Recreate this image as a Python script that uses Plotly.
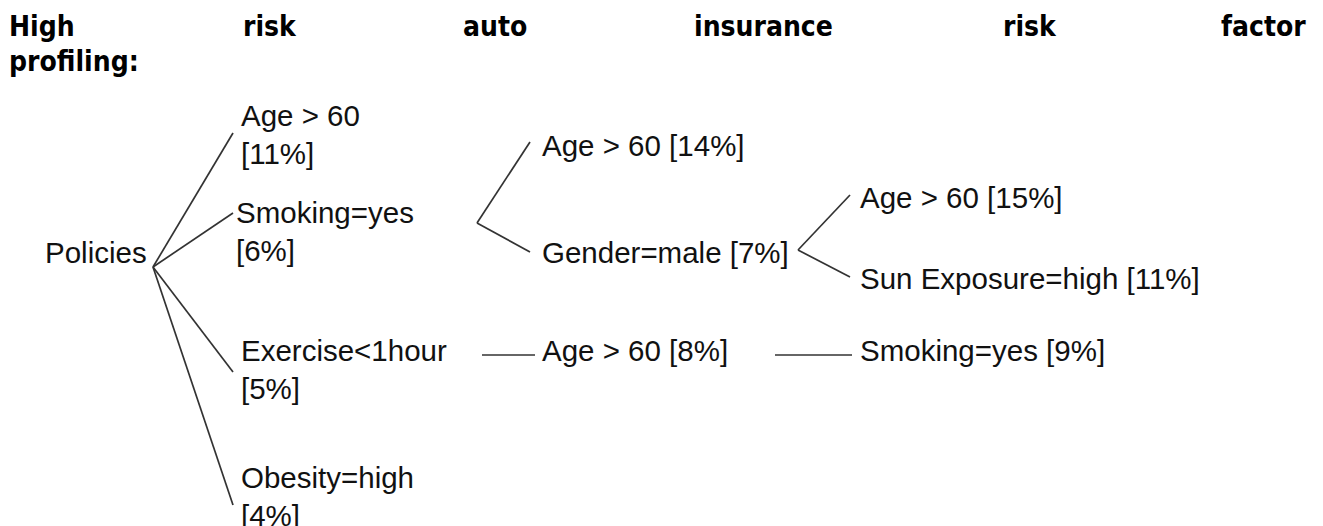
import plotly.graph_objects as go

# ---------------- data ----------------
title_words = ["High", "risk", "auto", "insurance", "risk", "factor"]
title_line2 = "profiling:"

node_labels = ["Policies", "Age > 60", "Smoking=yes", "Exercise<1hour", "Obesity=high",
               "Age > 60", "Gender=male", "Age > 60", "Sun Exposure=high",
               "Age > 60", "Smoking=yes"]
node_pct = [None, 11, 6, 5, 4, 14, 7, 15, 11, 8, 9]
node_parent = [None, 0, 0, 0, 0, 2, 2, 6, 6, 3, 9]
node_level = [0, 1, 1, 1, 1, 2, 2, 3, 3, 2, 3]

# ---------------- layout (pixel positions, page coordinates) ----------------
W, H = 1323, 526
PAGE_MARGIN = 8  # default body margin of the html page
title_word_x = [8, 242, 462, 693, 1002, 1220]
title_y1, title_y2 = 26, 61

# text anchor (x, y-center) per node
node_text_pos = [(148, 252), (240, 134), (235, 231), (240, 369), (240, 496),
                 (541, 145), (541, 252), (859, 197), (859, 278),
                 (541, 350), (859, 350)]
# where edges leave a parent node
node_out = {0: (153, 267), 2: (477, 223), 6: (798, 250), 3: (482, 355), 9: (775, 355)}
# where the edge reaches each child
node_in = {1: (233, 133), 2: (233, 213), 3: (233, 372), 4: (233, 505),
           5: (530, 142), 6: (530, 252), 7: (850, 195), 8: (850, 277),
           9: (535, 355), 10: (852, 355)}

LINE_COLOR = "#333333"
TEXT_COLOR = "#111111"
TREE_FONT = dict(family="Liberation Sans, Arial, sans-serif", size=29.5, color=TEXT_COLOR)
TITLE_FONT = dict(family="DejaVu Sans Condensed, Liberation Sans, sans-serif", size=28, color="#000000")

fig = go.Figure()

# edges
for i, p in enumerate(node_parent):
    if p is None:
        continue
    x0, y0 = node_out[p]
    x1, y1 = node_in[i]
    fig.add_trace(go.Scatter(x=[x0, x1], y=[y0, y1], mode="lines",
                             line=dict(color=LINE_COLOR, width=1.7),
                             hoverinfo="skip", showlegend=False))

annotations = []
# node labels
for i, lab in enumerate(node_labels):
    x, y = node_text_pos[i]
    if node_pct[i] is None:
        txt = lab
        xa = "right"
    elif node_level[i] == 1:
        txt = f"{lab}<br>[{node_pct[i]}%]"
        xa = "left"
    else:
        txt = f"{lab} [{node_pct[i]}%]"
        xa = "left"
    annotations.append(dict(x=x, y=y, xref="x", yref="y", text=txt, showarrow=False,
                            xanchor=xa, yanchor="middle", align="left",
                            font=TREE_FONT, borderpad=0))

# title (justified words)
for wx, w in zip(title_word_x, title_words):
    annotations.append(dict(x=wx, y=title_y1, xref="x", yref="y", text=f"<b>{w}</b>",
                            showarrow=False, xanchor="left", yanchor="middle",
                            font=TITLE_FONT, borderpad=0))
annotations.append(dict(x=title_word_x[0], y=title_y2, xref="x", yref="y",
                        text=f"<b>{title_line2}</b>", showarrow=False,
                        xanchor="left", yanchor="middle", font=TITLE_FONT, borderpad=0))

fig.update_layout(
    width=W - PAGE_MARGIN, height=H - PAGE_MARGIN,
    margin=dict(l=0, r=0, t=0, b=0),
    paper_bgcolor="white", plot_bgcolor="white",
    xaxis=dict(range=[PAGE_MARGIN, W], visible=False, fixedrange=True),
    yaxis=dict(range=[H, PAGE_MARGIN], visible=False, fixedrange=True),
    annotations=annotations,
    showlegend=False,
)

fig.write_html("out.html")
